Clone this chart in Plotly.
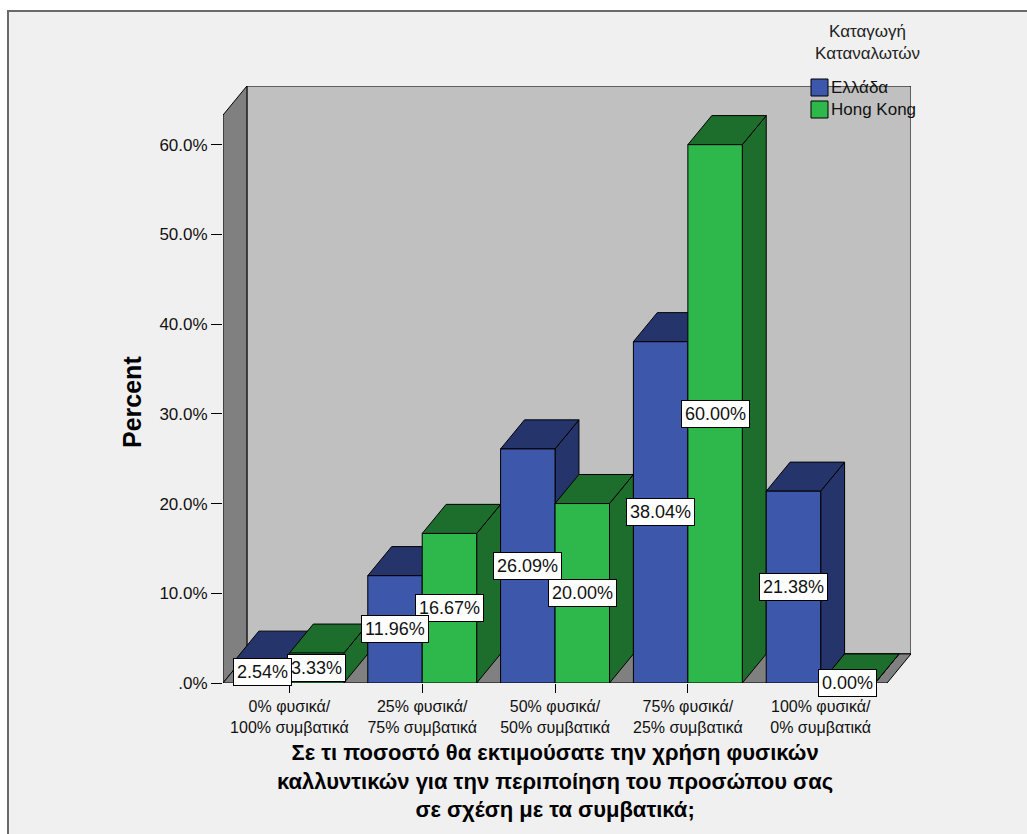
import plotly.graph_objects as go

# ---- data ----------------------------------------------------------------
categories = [
    "0% φυσικά/<br>100% συμβατικά",
    "25% φυσικά/<br>75% συμβατικά",
    "50% φυσικά/<br>50% συμβατικά",
    "75% φυσικά/<br>25% συμβατικά",
    "100% φυσικά/<br>0% συμβατικά",
]
series_names = ["Ελλάδα", "Hong Kong"]
greece = [2.54, 11.96, 26.09, 38.04, 21.38]
hong_kong = [3.33, 16.67, 20.00, 60.00, 0.00]
y_tickvals = [0, 10, 20, 30, 40, 50, 60]
y_ticktext = [".0%", "10.0%", "20.0%", "30.0%", "40.0%", "50.0%", "60.0%"]
legend_title = "Καταγωγή<br>Καταναλωτών"
y_title = "Percent"
x_title = ("Σε τι ποσοστό θα εκτιμούσατε την χρήση φυσικών<br>"
           "καλλυντικών για την περιποίηση του προσώπου σας<br>"
           "σε σχέση με τα συμβατικά;")

# ---- styling -------------------------------------------------------------
FRONT = ["#3d57ab", "#2eb84b"]
DARK = ["#26346c", "#1d6e2d"]
WALL_BACK = "#c0c0c0"
WALL_SIDE = "#808080"
FONT = "Liberation Sans, Arial, sans-serif"

BAR_W = 0.41          # width of one bar, in category units
DX, DY = 0.18, 3.24   # oblique depth offset (category units, percent units)
Y_TOP = 63.3          # height of the front edge of the walls

W, H = 1027, 834
ML, MR, MT, MB = 223, 116, 86, 151
PW, PH = W - ML - MR, H - MT - MB


def px(xp):
    return (xp - ML) / PW


def py(yp):
    return (H - MB - yp) / PH


fig = go.Figure()


def poly(xs, ys, fill):
    fig.add_trace(go.Scatter(
        x=xs + [xs[0]], y=ys + [ys[0]], mode="lines", fill="toself",
        fillcolor=fill, line=dict(color="black", width=1),
        hoverinfo="skip", showlegend=False))


# walls and floor
x_lo, x_hi = -0.5, len(categories) - 0.5
poly([x_lo + DX, x_hi + DX, x_hi + DX, x_lo + DX],
     [DY, DY, Y_TOP + DY, Y_TOP + DY], WALL_BACK)
poly([x_lo, x_lo, x_lo + DX, x_lo + DX],
     [0, Y_TOP, Y_TOP + DY, DY], WALL_SIDE)
poly([x_lo, x_hi, x_hi + DX, x_lo + DX], [0, 0, DY, DY], WALL_SIDE)

# 3-D bars, painted left to right; value labels sit mid-height on the front
annotations = []
values = [greece, hong_kong]
labels = []
for i in range(len(categories)):
    for s in range(len(values)):
        h = values[s][i]
        x0 = i - BAR_W + s * BAR_W
        x1 = x0 + BAR_W
        poly([x1, x1 + DX, x1 + DX, x1], [0, DY, h + DY, h], DARK[s])
        poly([x0, x1, x1 + DX, x0 + DX], [h, h, h + DY, h + DY], DARK[s])
        poly([x0, x1, x1, x0], [0, 0, h, h], FRONT[s])
        labels.append((s, dict(
            x=(x0 + x1) / 2, y=h / 2, xref="x", yref="y",
            xanchor="center", yanchor="middle",
            text=f"{h:.2f}%", showarrow=False,
            bgcolor="white", bordercolor="black", borderwidth=1, borderpad=3,
            font=dict(family=FONT, size=18, color="#111"))))
# later series' labels underneath earlier ones
for s in reversed(range(len(values))):
    annotations += [a for k, a in labels if k == s]


def note(xp, yp, text, size, **kw):
    d = dict(x=px(xp), y=py(yp), xref="paper", yref="paper", text=text,
             showarrow=False, xanchor="center", yanchor="middle",
             font=dict(family=FONT, size=size,
                       color=kw.pop("color", "black"),
                       weight=kw.pop("weight", "normal")))
    d.update(kw)
    annotations.append(d)


# axis titles
note(132, 402, y_title, 25, weight="bold", textangle=-90)
note(555, 781, x_title, 22, weight="bold", align="center")

# legend
note(867, 42, legend_title, 17, color="#222", align="center")
shapes = [dict(type="rect", xref="paper", yref="paper",
               x0=px(8), x1=px(1040), y0=py(850), y1=py(11),
               fillcolor="#f0f0f0", line=dict(color="#6a6a6a", width=2),
               layer="below")]
for k, name in enumerate(series_names):
    top = 79 + k * 22
    shapes.append(dict(type="rect", xref="paper", yref="paper",
                       x0=px(811), x1=px(828), y0=py(top + 17), y1=py(top),
                       fillcolor=FRONT[k], line=dict(color="black", width=1)))
    note(829, top + 9, name, 17, color="#111", xanchor="left")

fig.update_layout(
    width=W, height=H,
    margin=dict(l=ML, r=MR, t=MT, b=MB, pad=0),
    paper_bgcolor="white", plot_bgcolor="rgba(0,0,0,0)",
    showlegend=False,
    annotations=annotations, shapes=shapes,
    xaxis=dict(range=[x_lo, x_hi + DX], tickvals=list(range(len(categories))),
               ticktext=categories, ticks="outside", ticklen=9,
               tickcolor="black", showgrid=False, zeroline=False,
               showline=False, fixedrange=True,
               tickfont=dict(family=FONT, size=16, color="#111")),
    yaxis=dict(range=[0, Y_TOP + DY], tickvals=y_tickvals,
               ticktext=y_ticktext, ticks="outside", ticklen=11,
               tickcolor="black", showgrid=False, zeroline=False,
               showline=False, fixedrange=True,
               tickfont=dict(family=FONT, size=17, color="#111")),
)

fig.write_html("out.html")
